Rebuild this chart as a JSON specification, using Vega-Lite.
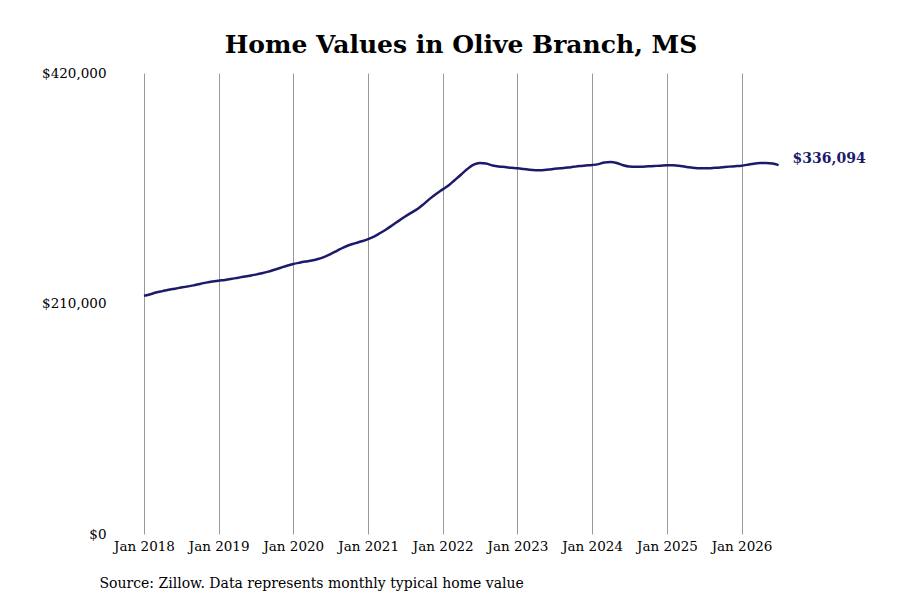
{
  "$schema": "https://vega.github.io/schema/vega-lite/v6.json",
  "autosize": {"type": "none"},
  "padding": {"left": 144, "top": 73, "right": 84, "bottom": 66},
  "width": 672,
  "height": 461,
  "background": "white",
  "title": {
    "text": "Home Values in Olive Branch, MS",
    "font": "DejaVu Serif",
    "fontSize": 25,
    "fontWeight": "bold",
    "color": "#000000",
    "anchor": "middle",
    "dx": -19,
    "offset": 8
  },
  "config": {
    "view": {"stroke": null},
    "font": "DejaVu Serif"
  },
  "data": {
    "values": [
      {"date": "2018-01-01", "value": 217000},
      {"date": "2018-02-01", "value": 218500},
      {"date": "2018-03-01", "value": 220000},
      {"date": "2018-04-01", "value": 221300},
      {"date": "2018-05-01", "value": 222500},
      {"date": "2018-06-01", "value": 223500},
      {"date": "2018-07-01", "value": 224500},
      {"date": "2018-08-01", "value": 225500},
      {"date": "2018-09-01", "value": 226500},
      {"date": "2018-10-01", "value": 227800},
      {"date": "2018-11-01", "value": 229000},
      {"date": "2018-12-01", "value": 230000},
      {"date": "2019-01-01", "value": 230800},
      {"date": "2019-02-01", "value": 231500},
      {"date": "2019-03-01", "value": 232300},
      {"date": "2019-04-01", "value": 233300},
      {"date": "2019-05-01", "value": 234300},
      {"date": "2019-06-01", "value": 235300},
      {"date": "2019-07-01", "value": 236300},
      {"date": "2019-08-01", "value": 237500},
      {"date": "2019-09-01", "value": 239000},
      {"date": "2019-10-01", "value": 240800},
      {"date": "2019-11-01", "value": 242600},
      {"date": "2019-12-01", "value": 244400},
      {"date": "2020-01-01", "value": 246000},
      {"date": "2020-02-01", "value": 247200},
      {"date": "2020-03-01", "value": 248200},
      {"date": "2020-04-01", "value": 249200},
      {"date": "2020-05-01", "value": 250500},
      {"date": "2020-06-01", "value": 252500},
      {"date": "2020-07-01", "value": 255000},
      {"date": "2020-08-01", "value": 258000},
      {"date": "2020-09-01", "value": 261000},
      {"date": "2020-10-01", "value": 263300},
      {"date": "2020-11-01", "value": 265000},
      {"date": "2020-12-01", "value": 266700},
      {"date": "2021-01-01", "value": 268700},
      {"date": "2021-02-01", "value": 271200},
      {"date": "2021-03-01", "value": 274200},
      {"date": "2021-04-01", "value": 277700},
      {"date": "2021-05-01", "value": 281500},
      {"date": "2021-06-01", "value": 285500},
      {"date": "2021-07-01", "value": 289300},
      {"date": "2021-08-01", "value": 292800},
      {"date": "2021-09-01", "value": 296300},
      {"date": "2021-10-01", "value": 300800},
      {"date": "2021-11-01", "value": 305800},
      {"date": "2021-12-01", "value": 310000},
      {"date": "2022-01-01", "value": 314000},
      {"date": "2022-02-01", "value": 318000},
      {"date": "2022-03-01", "value": 322500},
      {"date": "2022-04-01", "value": 327500},
      {"date": "2022-05-01", "value": 332500},
      {"date": "2022-06-01", "value": 336500},
      {"date": "2022-07-01", "value": 338000},
      {"date": "2022-08-01", "value": 337500},
      {"date": "2022-09-01", "value": 335800},
      {"date": "2022-10-01", "value": 334800},
      {"date": "2022-11-01", "value": 334300},
      {"date": "2022-12-01", "value": 333700},
      {"date": "2023-01-01", "value": 333200},
      {"date": "2023-02-01", "value": 332500},
      {"date": "2023-03-01", "value": 331800},
      {"date": "2023-04-01", "value": 331500},
      {"date": "2023-05-01", "value": 331500},
      {"date": "2023-06-01", "value": 332000},
      {"date": "2023-07-01", "value": 332700},
      {"date": "2023-08-01", "value": 333300},
      {"date": "2023-09-01", "value": 333800},
      {"date": "2023-10-01", "value": 334500},
      {"date": "2023-11-01", "value": 335200},
      {"date": "2023-12-01", "value": 335700},
      {"date": "2024-01-01", "value": 336200},
      {"date": "2024-02-01", "value": 337000},
      {"date": "2024-03-01", "value": 338500},
      {"date": "2024-04-01", "value": 338900},
      {"date": "2024-05-01", "value": 338000},
      {"date": "2024-06-01", "value": 336000},
      {"date": "2024-07-01", "value": 334800},
      {"date": "2024-08-01", "value": 334500},
      {"date": "2024-09-01", "value": 334700},
      {"date": "2024-10-01", "value": 335000},
      {"date": "2024-11-01", "value": 335300},
      {"date": "2024-12-01", "value": 335600},
      {"date": "2025-01-01", "value": 336000},
      {"date": "2025-02-01", "value": 336000},
      {"date": "2025-03-01", "value": 335500},
      {"date": "2025-04-01", "value": 334500},
      {"date": "2025-05-01", "value": 333800},
      {"date": "2025-06-01", "value": 333300},
      {"date": "2025-07-01", "value": 333200},
      {"date": "2025-08-01", "value": 333300},
      {"date": "2025-09-01", "value": 333700},
      {"date": "2025-10-01", "value": 334200},
      {"date": "2025-11-01", "value": 334700},
      {"date": "2025-12-01", "value": 335100},
      {"date": "2026-01-01", "value": 335600},
      {"date": "2026-02-01", "value": 336500},
      {"date": "2026-03-01", "value": 337400},
      {"date": "2026-04-01", "value": 337900},
      {"date": "2026-05-01", "value": 337900},
      {"date": "2026-06-01", "value": 337500},
      {"date": "2026-07-01", "value": 336094}
    ]
  },
  "encoding": {
    "x": {
      "field": "date",
      "type": "temporal",
      "scale": {
        "type": "utc",
        "domain": [
          {"year": 2018, "month": 1, "date": 1, "utc": true},
          {"year": 2026, "month": 12, "date": 31, "utc": true}
        ]
      },
      "axis": {
        "title": "Source: Zillow. Data represents monthly typical home value",
        "titleFont": "DejaVu Serif",
        "titleFontSize": 14,
        "titleFontWeight": "normal",
        "titleColor": "#000000",
        "titleAnchor": "start",
        "titleAlign": "left",
        "titleX": -45,
        "titleY": 53,
        "titleBaseline": "alphabetic",
        "labelExpr": "utcFormat(datum.value, '%b %Y')",
        "tickCount": {"interval": "year", "step": 1},
        "grid": true,
        "gridColor": "#999999",
        "gridWidth": 1,
        "gridOpacity": 1,
        "domain": false,
        "ticks": false,
        "labelFont": "DejaVu Serif",
        "labelFontSize": 13.5,
        "labelColor": "#000000",
        "labelPadding": 5,
        "labelOverlap": false,
        "labelFlush": false
      }
    },
    "y": {
      "field": "value",
      "type": "quantitative",
      "scale": {"domain": [0, 420000], "nice": false, "zero": true},
      "axis": {
        "title": null,
        "values": [0, 210000, 420000],
        "format": "$,.0f",
        "grid": false,
        "domain": false,
        "ticks": false,
        "labelFont": "DejaVu Serif",
        "labelFontSize": 13.5,
        "labelColor": "#000000",
        "labelPadding": 38
      }
    }
  },
  "layer": [
    {
      "mark": {"type": "line", "color": "#1c1a6b", "strokeWidth": 2.5, "interpolate": "monotone"}
    },
    {
      "transform": [{"filter": "time(datum.date) >= utc(2026, 6, 1)"}],
      "mark": {
        "type": "text",
        "align": "left",
        "baseline": "middle",
        "dx": 14,
        "dy": -6,
        "font": "DejaVu Serif",
        "fontSize": 14,
        "fontWeight": "bold",
        "color": "#1c1a6b"
      },
      "encoding": {
        "text": {"field": "value", "type": "quantitative", "format": "$,.0f"}
      }
    }
  ]
}
